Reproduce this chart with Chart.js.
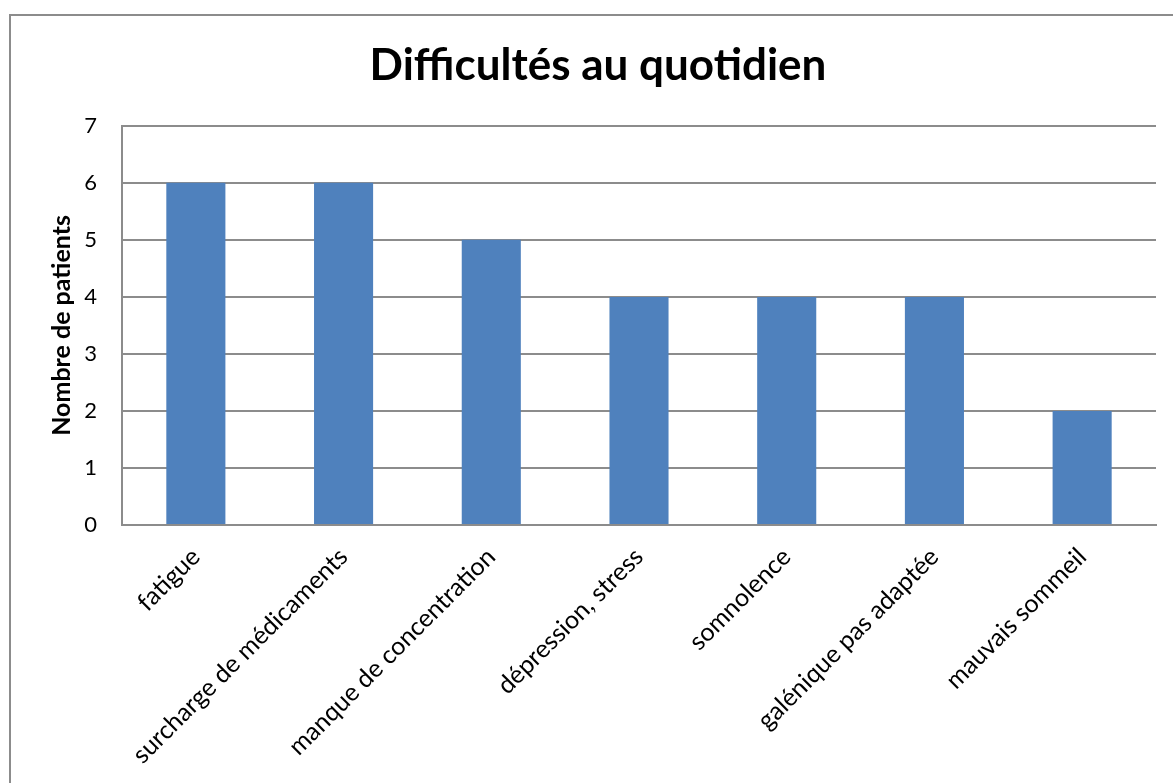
<!DOCTYPE html>
<html>
<head>
<meta charset="utf-8">
<script src="https://cdn.jsdelivr.net/npm/chart.js@4.4.1/dist/chart.umd.min.js"></script>
<style>
  html, body { margin: 0; padding: 0; background: #fff; overflow: hidden; }
  #wrap { width: 1173px; height: 783px; position: relative; }
</style>
</head>
<body>
<div id="wrap"><canvas id="chart" width="1173" height="783"></canvas></div>
<script>
const categories = [
  "fatigue",
  "surcharge de médicaments",
  "manque de concentration",
  "dépression, stress",
  "somnolence",
  "galénique pas adaptée",
  "mauvais sommeil"
];
const patients = [6, 6, 5, 4, 4, 4, 2];
const yTicks = [0, 1, 2, 3, 4, 5, 6, 7];

const gridGray = "#8c8c8c";

// outer frame of the chart, cut off at the right and bottom edges
const framePlugin = {
  id: "frame",
  beforeDraw(chart) {
    const c = chart.ctx;
    c.save();
    c.fillStyle = "#fff";
    c.fillRect(0, 0, chart.width, chart.height);
    c.strokeStyle = "#8c8c8c";
    c.lineWidth = 2;
    c.strokeRect(10, 15, 1300, 900);
    c.restore();
  }
};

const ctx = document.getElementById("chart").getContext("2d");

new Chart(ctx, {
  type: "bar",
  data: {
    labels: categories,
    datasets: [{
      label: "Nombre de patients",
      data: patients,
      backgroundColor: "#4f81bd",
      borderWidth: 0,
      categoryPercentage: 1,
      barPercentage: 0.4
    }]
  },
  options: {
    responsive: false,
    animation: false,
    layout: { padding: { left: 40, right: 17, top: 0, bottom: 0 } },
    plugins: {
      legend: { display: false },
      tooltip: { enabled: false },
      title: {
        display: true,
        text: "Difficultés au quotidien",
        color: "#000",
        font: { family: "Lato", size: 44, weight: "bold" },
        padding: { top: 39, bottom: 34 }
      }
    },
    scales: {
      x: {
        grid: { display: false, drawTicks: false },
        border: { display: true, color: gridGray, width: 2 },
        ticks: {
          color: "#000",
          font: { family: "Lato", size: 25 },
          minRotation: 45,
          maxRotation: 45,
          padding: 17,
          autoSkip: false
        },
        afterFit(scale) { scale.height = 258; }
      },
      y: {
        min: 0,
        max: 7,
        afterBuildTicks(scale) { scale.ticks = yTicks.map(v => ({ value: v })); },
        grid: { color: gridGray, lineWidth: 2, drawTicks: false },
        border: { display: true, color: gridGray, width: 2 },
        ticks: {
          color: "#000",
          font: { family: "Lato", size: 22 },
          padding: 25
        },
        title: {
          display: true,
          text: "Nombre de patients",
          color: "#000",
          font: { family: "Lato", size: 25, weight: "bold" },
          padding: { top: 7, bottom: 0 }
        },
        afterFit(scale) { scale.width = 82; }
      }
    }
  },
  plugins: [framePlugin]
});
</script>
</body>
</html>
